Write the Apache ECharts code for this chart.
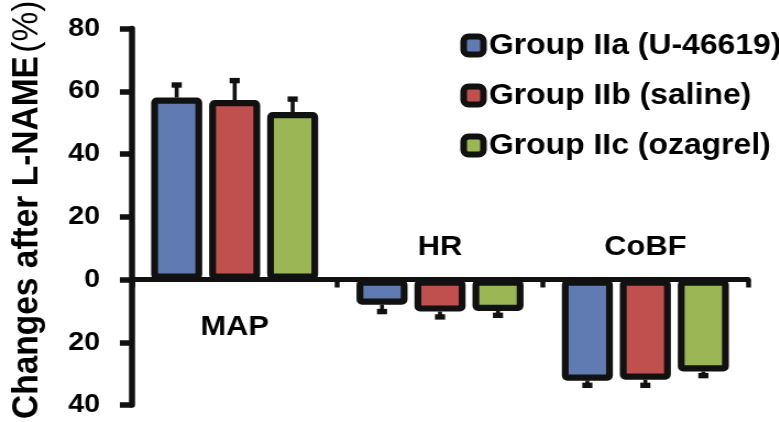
<!DOCTYPE html>
<html><head><meta charset="utf-8">
<script src="https://cdn.jsdelivr.net/npm/echarts@6/dist/echarts.min.js"></script>
<style>html,body{margin:0;padding:0;background:#fff;overflow:hidden}
#c{width:708px;height:422px;transform:scaleX(1.1);transform-origin:0 0}</style>
</head><body><div id="c"></div>
<script>
// ---- data ----
const categories = ['MAP', 'HR', 'CoBF'];
const groupNames = ['Group IIa (U-46619)', 'Group IIb (saline)', 'Group IIc (ozagrel)'];
const groupIIa = [58.0, -8.0, -32.2];
const groupIIb = [57.2, -10.2, -31.9];
const groupIIc = [53.4, -10.0, -29.3];
const errIIa = [4.0, 2.2, 1.5];
const errIIb = [6.2, 1.7, 1.8];
const errIIc = [4.1, 1.4, 1.3];
const yTicks = [-40, -20, 0, 20, 40, 60, 80];
const yTitle = 'Changes after L-NAME';
const yUnit = '(%)';
// which category names sit under the zero line (the others sit above it)
const namesBelow = ['MAP'];

// ---- style ----
const FONT = "'Liberation Sans', Arial, sans-serif";
const INK = '#000';
const LINE = '#111';
const colors = ['#5f7bb2', '#c0504d', '#9bb755'];
const BAR_W = 46.4, BAR_GAP = 0.136;
const STEP = BAR_W * (1 + BAR_GAP);

const values = [groupIIa, groupIIb, groupIIc];
const errors = [errIIa, errIIb, errIIc];

const barSeries = groupNames.map((name, si) => ({
  name: name,
  type: 'bar',
  data: values[si],
  barWidth: BAR_W,
  barGap: (BAR_GAP * 100) + '%',
  itemStyle: { color: colors[si], borderColor: LINE, borderWidth: 6.2, borderRadius: 2 },
  silent: true,
  z: 2
}));

const errData = [];
values.forEach((arr, si) => arr.forEach((v, ci) => errData.push([ci, v, errors[si][ci], si])));

function renderErr(params, api) {
  const ci = api.value(0), v = api.value(1), e = api.value(2), si = api.value(3);
  const dir = v >= 0 ? 1 : -1;
  const p0 = api.coord([ci, v]);
  const p1 = api.coord([ci, v + dir * e]);
  const x = p0[0] + (si - 1) * STEP;
  return {
    type: 'group',
    children: [
      { type: 'line', shape: { x1: x, y1: p0[1], x2: x, y2: p1[1] }, style: { stroke: LINE, lineWidth: 3.6 } },
      { type: 'rect', shape: { x: x - 4.6, y: p1[1] - 2.7, width: 9.2, height: 5.4 }, style: { fill: LINE } }
    ]
  };
}

// category names drawn next to the zero line
const catLabelData = categories.map((c, i) => [i, 0]);
function renderCat(params, api) {
  const i = api.value(0);
  const p = api.coord([i, api.value(1)]);
  const below = namesBelow.includes(categories[i]);
  return {
    type: 'text',
    x: p[0],
    y: p[1] + (below ? 48 : -32.5),
    style: {
      text: categories[i], fill: INK, fontSize: 28, fontWeight: 'bold', fontFamily: FONT,
      align: 'center', verticalAlign: 'middle', opacity: 1
    }
  };
}

const chart = echarts.init(document.getElementById('c'), null, { renderer: 'canvas' });
chart.setOption({
  animation: false,
  backgroundColor: '#fff',
  color: colors,
  grid: { left: 120, right: 28, top: 28.5, bottom: 12, containLabel: false },
  legend: {
    data: groupNames,
    orient: 'vertical',
    left: 413.5, top: 26,
    itemWidth: 18, itemHeight: 18, itemGap: 21,
    icon: 'roundRect',
    selectedMode: false,
    textStyle: { fontSize: 29, fontWeight: 'bold', color: INK, fontFamily: FONT },
    itemStyle: { borderColor: LINE, borderWidth: 6 }
  },
  xAxis: {
    type: 'category',
    data: categories,
    axisLine: { onZero: true, lineStyle: { color: LINE, width: 5 } },
    axisTick: { show: true, length: 8, lineStyle: { color: LINE, width: 4.5 } },
    axisLabel: { show: false },
    splitLine: { show: false }
  },
  yAxis: {
    type: 'value',
    min: yTicks[0], max: yTicks[yTicks.length - 1], interval: yTicks[1] - yTicks[0],
    name: '{b|' + yTitle + '} {n|' + yUnit + '}',
    nameLocation: 'middle',
    nameRotate: 90,
    nameGap: 78,
    nameTextStyle: {
      fontFamily: FONT, color: INK, padding: [0, 0, 0, 14],
      rich: {
        b: { fontSize: 33.5, fontWeight: 'bold', color: INK, fontFamily: FONT },
        n: { fontSize: 33.5, fontWeight: 'normal', color: INK, fontFamily: FONT }
      }
    },
    axisLine: { show: true, lineStyle: { color: LINE, width: 5.5 } },
    axisTick: { show: true, length: 11, lineStyle: { color: LINE, width: 5.5 } },
    axisLabel: {
      margin: 29, fontSize: 26, fontWeight: 'bold', color: INK, fontFamily: FONT,
      formatter: v => String(Math.abs(v))
    },
    splitLine: { show: false }
  },
  series: barSeries.concat([
    {
      type: 'custom',
      name: 'err',
      renderItem: renderErr,
      data: errData,
      encode: { x: 0, y: 1 },
      silent: true,
      z: 3
    },
    {
      type: 'custom',
      name: 'categoryNames',
      renderItem: renderCat,
      data: catLabelData,
      encode: { x: 0, y: 1 },
      silent: true,
      z: 4
    }
  ])
});
</script></body></html>
